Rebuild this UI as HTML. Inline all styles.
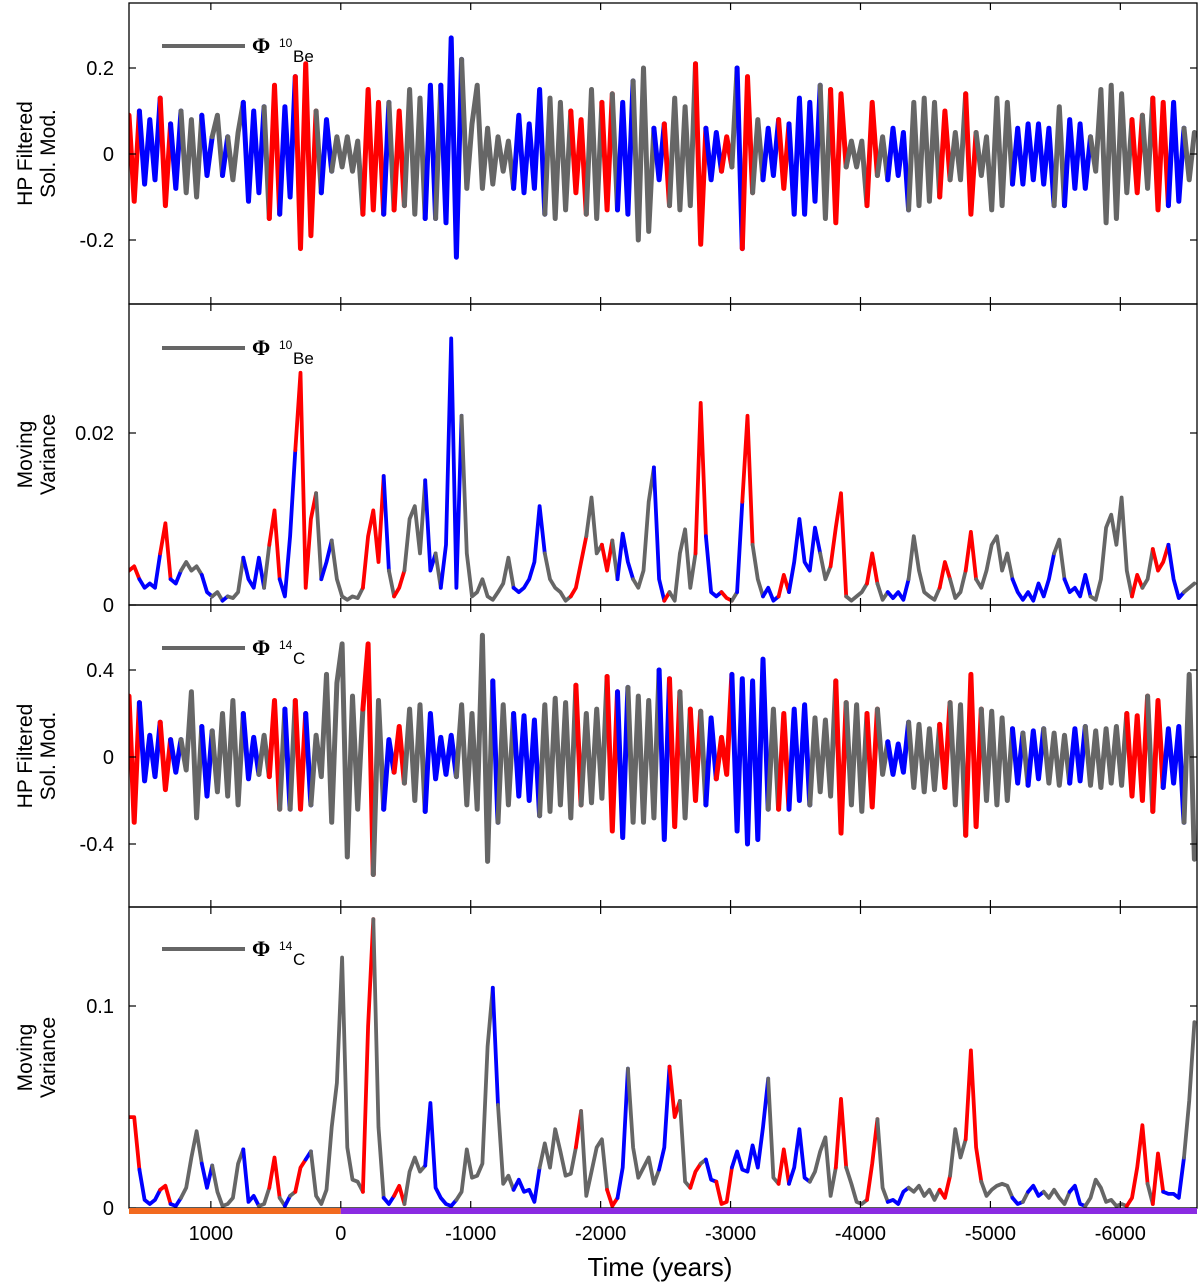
<!DOCTYPE html>
<html><head><meta charset="utf-8">
<style>
html,body{margin:0;padding:0;background:#fff;}
svg{display:block;font-family:"Liberation Sans",Arial,sans-serif;}
</style></head>
<body>
<svg id="chart" width="1200" height="1283" viewBox="0 0 1200 1283" xmlns="http://www.w3.org/2000/svg"></svg>
<script>
// ---- data (step of 40 years starting at 1630) ----
const startYear = 1630;
const stepYears = 40;
const xTicks = [1000, 0, -1000, -2000, -3000, -4000, -5000, -6000];
const xTickLabels = ["1000", "0", "-1000", "-2000", "-3000", "-4000", "-5000", "-6000"];

// Panel 1: HP filtered 10Be (units of 0.01)
const hp10Be = [9,-11,10,-7,8,-6,13,-12,7,-8,10,-9,8,-10,9,-5,4,9,-5,4,-6,5,12,-11,10,-9,11,-15,16,-14,11,-10,18,-22,21,-19,10,-9,8,-4,4,-3,4,-4,3,-14,15,-13,12,-14,12,-13,10,-12,15,-14,13,-15,16,-15,16,-16,27,-24,22,-8,7,16,-8,6,-7,4,-4,3,-8,9,-9,7,-8,15,-14,13,-15,12,-13,10,-9,8,-14,15,-15,12,-13,14,-13,12,-14,17,-20,20,-18,6,-6,7,-12,13,-13,11,-12,21,-21,6,-6,5,-4,4,-3,20,-22,18,-9,8,-6,6,-5,8,-8,7,-14,13,-14,12,-11,16,-15,15,-16,14,-3,3,-3,3,-12,12,-5,4,-6,6,-5,5,-13,12,-12,13,-11,12,-10,10,-6,5,-6,14,-14,5,-5,4,-13,13,-12,12,-7,6,-7,7,-6,7,-7,6,-12,11,-12,8,-8,7,-8,4,-4,15,-16,16,-15,14,-9,8,-9,9,-8,13,-13,12,-12,12,-11,6,-6,5];
// Panel 2: moving variance 10Be (units of 0.001)
const var10Be = [4,4.5,3,2,2.5,2,6,9.5,3,2.5,4,5,4,4.5,3.5,1.5,1,1.5,0.5,1,0.8,1.5,5.5,3,2,5.5,2,7,11,3,1,8,18,27,2,10,13,3,5,7.5,3,1,0.6,1,0.8,2,8,11,5,15,4,1,2,4,10,11.5,6,14.5,4,6,2,7,31,2,22,6,1,1.5,3,1,0.6,1.5,2.5,5.5,2,1.5,2,3,5,11.5,6,3,2,1.5,0.5,1,2,5,8,12.5,6,7,4,7.5,3,8.3,5,3,2,4,12,16,3,0.5,1.5,0.5,6,8.8,2,6,23.5,8,1.5,1,1.5,0.8,0.5,1.5,12,22,7,3,1,2,0.5,1,3.5,1.5,5,10,5,4,9,6,3,4.5,9,13,1,0.5,1,1.5,2.5,6,2.5,0.6,1.5,0.8,1.5,0.6,3,8,4,1.5,1,0.6,2,5,3,0.8,1.5,4,8.5,3,2,4,7,8,4,6,3,1.5,0.6,1.5,0.5,2.5,1,3,6,7.6,3,1.5,2,1,3.5,1,0.6,3,9,10.5,7,12.5,4,1,3.5,2,3,6.5,4,5,7,3,0.8,1.5,2,2.5];
// Panel 3: HP filtered 14C (units of 0.01)
const hp14C = [28,-30,25,-11,10,-9,16,-15,8,-7,8,-6,30,-28,14,-18,12,-16,20,-18,26,-22,20,-10,9,-8,10,-9,26,-24,22,-24,26,-24,20,-22,10,-9,38,-30,34,52,-46,28,-24,22,52,-54,26,-24,8,-7,14,-12,22,-20,24,-25,20,-10,9,-8,10,-9,24,-22,20,-24,56,-48,35,-30,24,-22,20,-18,19,-20,17,-27,24,-25,27,-22,25,-28,33,-22,20,-21,22,-19,37,-34,30,-37,32,-30,28,-30,26,-28,40,-38,36,-32,30,-28,22,-20,21,-22,18,-10,9,-8,38,-34,36,-40,35,-38,45,-24,22,-24,20,-24,22,-20,24,-22,18,-16,17,-18,35,-35,25,-22,24,-25,20,-23,22,-8,7,-8,6,-7,16,-14,15,-16,13,-15,15,-14,25,-22,24,-36,38,-32,22,-20,21,-22,18,-20,13,-12,11,-13,12,-10,13,-12,11,-13,10,-12,13,-11,14,-13,12,-14,13,-12,14,-13,20,-18,19,-20,28,-25,26,-14,13,-12,14,-30,38,-47];
// Panel 4: moving variance 14C (units of 0.001)
const var14C = [45,45,19,4,2,4,9,11,2,1,5,10,25,38,22,10,21,8,1,2,5,22,29,3,6,1,2,10,25,5,1,6,8,20,24,28,6,2,9,40,62,124,30,14,13,8,90,143,40,5,2,6,11,2,18,25,18,21,52,10,5,2,1,4,8,29,15,16,22,80,109,51,12,16,9,14,8,9,3,20,32,20,39,28,16,17,30,48,6,18,30,34,9,1,5,20,69,30,15,20,25,12,19,30,70,45,53,13,10,18,22,24,14,13,2,3,20,28,19,18,31,20,40,64,15,12,29,12,20,39,15,13,18,28,35,6,20,54,20,12,3,2,4,22,44,10,3,4,2,8,10,8,11,6,9,4,9,5,16,39,25,34,78,30,13,6,9,11,12,11,5,2,3,8,11,6,8,5,9,5,2,8,11,2,1,5,14,10,3,4,1,2,1,5,20,41,12,2,27,8,7,7,5,25,53,92];

// Colour classification periods (years): [start, end]
const red10Be = [[1642,1534],[1403,1326],[540,470],[362,208],[-162,-324],[-393,-486],[-1789,-1897],[-2028,-2105],[-2490,-2544],[-2714,-2814],[-2930,-2999],[-3092,-3169],[-3385,-3446],[-3778,-3870],[-4048,-4110],[-4603,-4688],[-4819,-4880],[-6106,-6160],[-6253,-6361]];
const blue10Be = [[1534,1403],[1326,1241],[1056,1002],[925,871],[740,578],[470,362],[139,85],[-324,-362],[-648,-748],[-763,-933],[-1203,-1226],[-1334,-1550],[-2120,-2251],[-2429,-2490],[-2822,-2930],[-3061,-3092],[-3246,-3369],[-3462,-3701],[-4194,-4356],[-5173,-5482],[-5574,-5752],[-6361,-6492]];
const red14C = [[1642,1534],[1403,1326],[540,486],[355,262],[-170,-262],[-409,-509],[-1804,-1858],[-2043,-2120],[-2514,-2598],[-2699,-2752],[-2907,-2992],[-3354,-3462],[-3809,-3886],[-4040,-4117],[-4595,-4672],[-4803,-4911],[-6045,-6199],[-6253,-6330]];
const blue14C = [[1534,1403],[1326,1249],[1087,987],[748,617],[432,378],[262,224],[-332,-409],[-648,-887],[-1172,-1226],[-1334,-1542],[-2120,-2197],[-2460,-2514],[-2830,-2884],[-2992,-3308],[-3462,-3624],[-4202,-4387],[-5173,-5251],[-5305,-5413],[-5598,-5729],[-6330,-6492]];

const NS = "http://www.w3.org/2000/svg";
const svg = document.getElementById("chart");
const X0 = 129, X1 = 1197;
const yrLeft = 1630, yrRight = -6590;
function xScale(t){ return X0 + (yrLeft - t) / (yrLeft - yrRight) * (X1 - X0); }

function mk(tag, attrs, parent){
  const e = document.createElementNS(NS, tag);
  for (const k in attrs) e.setAttribute(k, attrs[k]);
  (parent || svg).appendChild(e);
  return e;
}
function inSegs(t, segs){
  for (const s of segs){ const a = Math.min(s[0], s[1]), b = Math.max(s[0], s[1]); if (t >= a && t <= b) return true; }
  return false;
}

const panels = [
  {key:"hp-10be", top:3, bot:304, zero:154, pxPerUnit:4.3, data:hp10Be, red:red10Be, blue:blue10Be, sw:5,
   yt:[20,0,-20], ytl:["0.2","0","-0.2"], title:["HP Filtered","Sol. Mod."], iso:"10", el:"Be", legY:46},
  {key:"var-10be", top:304, bot:605, zero:605, pxPerUnit:8.6, data:var10Be, red:red10Be, blue:blue10Be, sw:3.8,
   yt:[20,0], ytl:["0.02","0"], title:["Moving","Variance"], iso:"10", el:"Be", legY:348},
  {key:"hp-14c", top:605, bot:907, zero:757, pxPerUnit:2.175, data:hp14C, red:red14C, blue:blue14C, sw:5,
   yt:[40,0,-40], ytl:["0.4","0","-0.4"], title:["HP Filtered","Sol. Mod."], iso:"14", el:"C", legY:648},
  {key:"var-14c", top:907, bot:1208, zero:1208, pxPerUnit:2.02, data:var14C, red:red14C, blue:blue14C, sw:3.8,
   yt:[100,0], ytl:["0.1","0"], title:["Moving","Variance"], iso:"14", el:"C", legY:949}
];

const COLORS = {g:"#666666", r:"#ff0000", b:"#0000ff"};

panels.forEach((p, pi) => {
  const g = mk("g", {});
  
  
  const clipId = "clip" + pi;
  const cp = mk("clipPath", {id: clipId}, g);
  mk("rect", {x:X0, y:p.top, width:X1-X0, height:p.bot-p.top}, cp);
  const yS = v => p.zero - v * p.pxPerUnit;
  const series = mk("g", {"clip-path":"url(#" + clipId + ")"}, g);
  
  
  let runs = [];
  for (let i = 0; i < p.data.length - 1; i++){
    const t0 = startYear - i*stepYears, t1 = startYear - (i+1)*stepYears;
    const tm = (t0 + t1) / 2;
    const c = inSegs(tm, p.red) ? "r" : (inSegs(tm, p.blue) ? "b" : "g");
    const pt0 = [xScale(t0), yS(p.data[i])], pt1 = [xScale(t1), yS(p.data[i+1])];
    const last = runs[runs.length-1];
    if (last && last.c === c) last.pts.push(pt1);
    else runs.push({c:c, pts:[pt0, pt1]});
  }
  runs.forEach(r => {
    const pl = mk("polyline", {points: r.pts.map(q => q[0].toFixed(1)+","+q[1].toFixed(1)).join(" "),
      fill:"none", stroke:COLORS[r.c], "stroke-width":p.sw, "stroke-linejoin":"round", "stroke-linecap":"round"}, series);
    
    
  });
  const fr = mk("rect", {x:X0, y:p.top, width:X1-X0, height:p.bot-p.top, fill:"none", stroke:"#000", "stroke-width":1.3}, g);
  
  
  xTicks.forEach(t => {
    const x = xScale(t);
    mk("line", {x1:x, x2:x, y1:p.top, y2:p.top+7, stroke:"#000", "stroke-width":1.2}, g);
    mk("line", {x1:x, x2:x, y1:p.bot, y2:p.bot-7, stroke:"#000", "stroke-width":1.2}, g);
  });
  p.yt.forEach((v, k) => {
    const y = yS(v);
    mk("line", {x1:X0, x2:X0+7, y1:y, y2:y, stroke:"#000", "stroke-width":1.2}, g);
    mk("line", {x1:X1, x2:X1-7, y1:y, y2:y, stroke:"#000", "stroke-width":1.2}, g);
    const tl = mk("text", {x:114, y:y+7, "text-anchor":"end", "font-size":20, fill:"#000"}, g);
    tl.textContent = p.ytl[k];
    
    
  });
  const cy = (p.top + p.bot) / 2;
  const yt = mk("text", {transform:"translate(32," + cy + ") rotate(-90)", "text-anchor":"middle", "font-size":21, fill:"#000"}, g);
  
  
  const s1 = mk("tspan", {x:0, dy:0}, yt); s1.textContent = p.title[0];
  const s2 = mk("tspan", {x:0, dy:23}, yt); s2.textContent = p.title[1];
  const lg = mk("g", {}, g);
  
  
  mk("line", {x1:162, x2:245, y1:p.legY, y2:p.legY, stroke:"#666666", "stroke-width":4}, lg);
  const phi = mk("text", {x:252, y:p.legY+7, "font-size":22, "font-family":"'Liberation Serif',serif", "font-weight":"bold", fill:"#000"}, lg);
  phi.textContent = "Φ";
  const iso = mk("text", {x:279, y:p.legY+1, "font-size":12, fill:"#000"}, lg);
  iso.textContent = p.iso;
  const el = mk("text", {x:293, y:p.legY+16, "font-size":17, fill:"#000"}, lg);
  el.textContent = p.el;
});

xTicks.forEach((t, k) => {
  const tx = mk("text", {x:xScale(t), y:1240, "text-anchor":"middle", "font-size":20, fill:"#000"});
  tx.textContent = xTickLabels[k];
  
  
});
const xt = mk("text", {x:660, y:1276, "text-anchor":"middle", "font-size":26, fill:"#000"});
xt.textContent = "Time (years)";



const ob = mk("rect", {x:X0, y:1208, width:xScale(0)-X0, height:6, fill:"#f26a1f"});


const pb = mk("rect", {x:xScale(0), y:1208, width:X1-xScale(0), height:6, fill:"#8a2be2"});


</script>
</body></html>
